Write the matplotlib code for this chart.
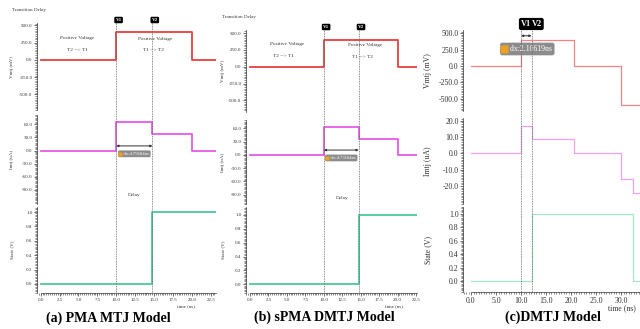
import matplotlib
matplotlib.use("Agg")
import matplotlib.pyplot as plt
import matplotlib.transforms as mtrans
from matplotlib.ticker import AutoMinorLocator, FixedLocator, FormatStrFormatter

plt.rcParams['font.family'] = ['Liberation Serif', 'DejaVu Serif']

# ---------------- data ----------------
a_time = [0, 10, 14.79184, 20, 23.2]
a_vmtj = [0, 400, 400, 0, 0]
a_imtj = [0, 64.5, 37, 0, 0]
a_state = [0, 0, 1, 1, 1]
a_v1, a_v2 = 10.0, 14.79184

b_time = [0, 10, 14.73184, 20, 22.6]
b_vmtj = [0, 400, 400, 0, 0]
b_imtj = [0, 64, 35, 0, 0]
b_state = [0, 0, 1, 1, 1]
b_v1, b_v2 = 10.0, 14.73184

c_time = [0, 10, 12.10619, 20.5, 30, 32.4, 33.8]
c_vmtj = [0, 400, 400, 0, -600, -600, -600]
c_imtj = [0, 16.7, 8.6, 0, -15.5, -24.5, -24.5]
c_state = [0, 0, 1, 1, 1, 0, 0]
c_v1, c_v2 = 10.0, 12.10619

ab_xticks = [0, 2.5, 5, 7.5, 10, 12.5, 15, 17.5, 20, 22.5]
c_xticks = [0, 5, 10, 15, 20, 25, 30]
v_ticks = [-500, -250, 0, 250, 500]
ab_i_ticks = [-90, -60, -30, 0, 30, 60]
c_i_ticks = [-20, -10, 0, 10, 20]
s_ticks = [0, 0.2, 0.4, 0.6, 0.8, 1.0]

W, H = 640, 329
fig = plt.figure(figsize=(W / 100, H / 100), dpi=100)


def add_px_axes(l, t, r, b):
    return fig.add_axes([l / W, 1 - b / H, (r - l) / W, (b - t) / H])


def ftext(x, y, s, **kw):
    return fig.text(x / W, 1 - y / H, s, **kw)


def style_axis(ax, xlim, ylim, yticks, fs, xticks=None, xmax=None, lw=0.5):
    ax.set_xlim(*xlim)
    ax.set_ylim(*ylim)
    for sp in ['top', 'right']:
        ax.spines[sp].set_visible(False)
    ax.spines['left'].set_linewidth(lw)
    ax.spines['left'].set_color('#333333')
    ax.yaxis.set_major_locator(FixedLocator(yticks))
    ax.yaxis.set_major_formatter(FormatStrFormatter('%.1f'))
    ax.yaxis.set_minor_locator(AutoMinorLocator(10))
    ax.tick_params(axis='y', which='major', length=2.2, width=lw, labelsize=fs,
                   colors='#333333', pad=1)
    ax.tick_params(axis='y', which='minor', length=1.2, width=0.4, colors='#333333')
    ax.patch.set_alpha(0)
    if xticks is None:
        ax.spines['bottom'].set_visible(False)
        ax.set_xticks([])
    else:
        ax.spines['bottom'].set_linewidth(lw)
        ax.spines['bottom'].set_color('#333333')
        ax.spines['bottom'].set_bounds(0, xmax)
        ax.xaxis.set_major_locator(FixedLocator(xticks))
        ax.xaxis.set_major_formatter(FormatStrFormatter('%.1f'))
        ax.xaxis.set_minor_locator(AutoMinorLocator(10))
        ax.tick_params(axis='x', which='major', length=2.2, width=lw, labelsize=fs,
                       colors='#333333', pad=1.5)
        ax.tick_params(axis='x', which='minor', length=1.2, width=0.4, colors='#333333')


def build_panel(p):
    axs = []
    l, r = p['lr']
    for k, (rowkey, ydata, col) in enumerate([('top', p['v'], p['colors'][0]),
                                               ('mid', p['i'], p['colors'][1]),
                                               ('bot', p['s'], p['colors'][2])]):
        t, b, ylim, yt = p[rowkey]
        ax = add_px_axes(l, t, r, b)
        is_bot = rowkey == 'bot'
        style_axis(ax, p['xlim'], ylim, yt, p['fs'],
                   xticks=p['xticks'] if is_bot else None,
                   xmax=p['xlim'][1] if is_bot else None)
        ax.step(p['t'], ydata, where='post', color=col, lw=p['lw'])
        ax.set_ylabel(p['ylabels'][k], fontsize=p['fs'], color='#333333')
        ax.yaxis.set_label_coords((p['ylab_x'] - l) / (r - l), 0.5)
        axs.append(ax)
    # overlay for cursors
    ov = add_px_axes(l, p['marker_y'], r, 293)
    ov.set_xlim(*p['xlim'])
    ov.set_ylim(0, 1)
    ov.axis('off')
    for v, name in [(p['v1'], 'V1'), (p['v2'], 'V2')]:
        ov.axvline(v, ymin=0, ymax=1, color='#666666', lw=0.6, ls=(0, (1, 1)))
        ov.text(v - p['mk_off'], 1.0, name, ha='left', va='center', color='white',
                fontsize=p['mkfs'], fontweight='bold',
                bbox=dict(boxstyle='round,pad=0.25', fc='black', ec='none'))
    # delay arrow
    ax_arrow = axs[p['arrow_ax']]
    ax_arrow.annotate('', xy=(p['v1'], p['arrow_y']), xytext=(p['v2'], p['arrow_y']),
                      arrowprops=dict(arrowstyle='<|-|>', color='#333333', lw=0.7,
                                      mutation_scale=3, shrinkA=0, shrinkB=0))
    xc = (p['v1'] + p['v2']) / 2 + p['dx_shift']
    ax_arrow.text(xc, p['dx_y'], '    ' + p['dx'], ha='center', va='center',
                  color='white', fontsize=p['dxfs'], zorder=4,
                  bbox=dict(boxstyle='round,pad=0.3', fc='#8c8c8c', ec='none'))
    tr = mtrans.offset_copy(ax_arrow.transData, fig=fig, x=p['or_off'], y=0, units='points')
    ax_arrow.plot([xc], [p['dx_y']], marker='s', ms=p['or_ms'], color='#f0a020',
                  mec='none', transform=tr, clip_on=False, zorder=6)
    return axs


red, mag, grn = '#e8403f', '#e65ae6', '#4cc995'
red_c, mag_c, grn_c = '#f08585', '#f0a2f0', '#a2e8c6'

pa = dict(lr=(37, 216), xlim=(-0.49, 23.2), t=a_time, v=a_vmtj, i=a_imtj, s=a_state,
          top=(23, 110, (-725, 536), v_ticks), mid=(115, 204, (-122, 81), ab_i_ticks),
          bot=(207, 293, (-0.126, 1.07), s_ticks), xticks=ab_xticks,
          colors=(red, mag, grn), lw=1.3, fs=3.6,
          ylabels=('Vmtj (mV)', 'Imtj (uA)', 'State (V)'), ylab_x=14,
          marker_y=20, v1=a_v1, v2=a_v2, mk_off=0.1, mkfs=3.6,
          arrow_ax=1, arrow_y=10.5, dx='dx:4.79184ns', dx_y=-7.5, dx_shift=0.0,
          dxfs=3.3, or_off=-10.5, or_ms=3.5)

pb = dict(lr=(246, 417), xlim=(-0.54, 22.63), t=b_time, v=b_vmtj, i=b_imtj, s=b_state,
          top=(30, 112, (-673, 545), v_ticks), mid=(120, 204, (-111, 79), ab_i_ticks),
          bot=(207, 293, (-0.126, 1.115), s_ticks), xticks=ab_xticks,
          colors=(red, mag, grn), lw=1.3, fs=3.6,
          ylabels=('Vmtj (mV)', 'Imtj (uA)', 'State (V)'), ylab_x=225,
          marker_y=27, v1=b_v1, v2=b_v2, mk_off=0.1, mkfs=3.6,
          arrow_ax=1, arrow_y=11, dx='dx:4.73184ns', dx_y=-6.8, dx_shift=0.0,
          dxfs=3.3, or_off=-10.5, or_ms=3.5)

pc = dict(lr=(463, 640), xlim=(-1.6, 33.8), t=c_time, v=c_vmtj, i=c_imtj, s=c_state,
          top=(30, 111, (-685, 548), v_ticks), mid=(118, 204, (-31, 21.6), c_i_ticks),
          bot=(207, 292, (-0.164, 1.1), s_ticks), xticks=c_xticks,
          colors=(red_c, mag_c, grn_c), lw=0.9, fs=5.6,
          ylabels=('Vmtj (mV)', 'Imtj (uA)', 'State (V)'), ylab_x=432,
          marker_y=24, v1=c_v1, v2=c_v2, mk_off=0.0, mkfs=6.0,
          arrow_ax=0, arrow_y=460, dx='dx:2.10619ns', dx_y=259, dx_shift=0.2,
          dxfs=5.6, or_off=-17, or_ms=5.5)

for p in (pa, pb, pc):
    build_panel(p)

# annotations text
ftext(12, 10, 'Transition Delay', fontsize=3.6, color='#333333', va='center')
ftext(222, 17, 'Transition Delay', fontsize=3.6, color='#333333', va='center')

ftext(77, 38, 'Positive Voltage', fontsize=3.8, ha='center', va='center', color='#333333')
ftext(77, 50, 'T2 --> T1', fontsize=3.8, ha='center', va='center', color='#333333')
ftext(155, 39, 'Positive Voltage', fontsize=3.8, ha='center', va='center', color='#333333')
ftext(153, 50, 'T1 --> T2', fontsize=3.8, ha='center', va='center', color='#333333')
ftext(287, 44, 'Positive Voltage', fontsize=3.8, ha='center', va='center', color='#333333')
ftext(283, 56, 'T2 --> T1', fontsize=3.8, ha='center', va='center', color='#333333')
ftext(365, 45, 'Positive Voltage', fontsize=3.8, ha='center', va='center', color='#333333')
ftext(362, 57, 'T1 --> T2', fontsize=3.8, ha='center', va='center', color='#333333')
ftext(134, 195, 'Delay', fontsize=3.8, ha='center', va='center', color='#333333')
ftext(342, 198, 'Delay', fontsize=3.8, ha='center', va='center', color='#333333')

ftext(186, 306, 'time (ns)', fontsize=3.6, ha='center', va='center', color='#333333')
ftext(394, 306, 'time (ns)', fontsize=3.6, ha='center', va='center', color='#333333')
ftext(622, 308, 'time (ns)', fontsize=5.6, ha='center', va='center', color='#333333')

ftext(108, 318, '(a) PMA MTJ Model', fontsize=10, fontweight='bold', ha='center', va='center')
ftext(324, 317, '(b) sPMA DMTJ Model', fontsize=10, fontweight='bold', ha='center', va='center')
ftext(553, 317, '(c)DMTJ Model', fontsize=10, fontweight='bold', ha='center', va='center')

fig.savefig('out.png', dpi=100)
